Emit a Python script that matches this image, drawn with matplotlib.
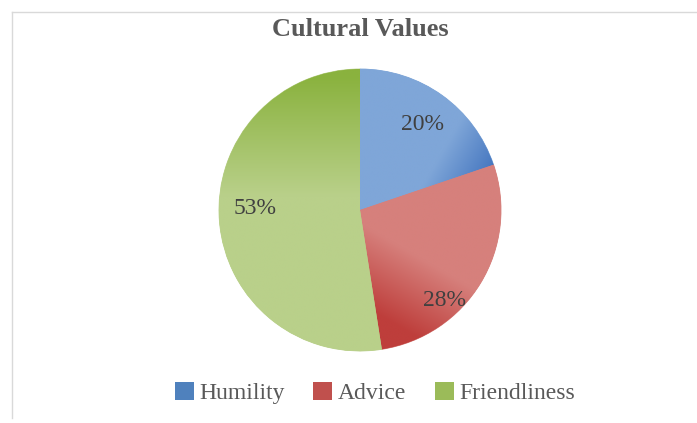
import numpy as np
import matplotlib
matplotlib.use("Agg")
import matplotlib.pyplot as plt
from matplotlib.patches import Patch
from matplotlib.lines import Line2D
from matplotlib.colors import to_rgb

categories = ["Humility", "Advice", "Friendliness"]
values = [20, 28, 53]
pct_labels = ["20%", "28%", "53%"]

# legend / base colours (Office theme)
base_colors = ["#4F81BD", "#C0504D", "#9BBB59"]
# gradient ends: (light, dark) and direction of darkening (degrees), start/span of ramp
grad_light = ["#7FA6D8", "#D6807C", "#B9D08A"]
grad_dark = ["#4173BE", "#BE3E3B", "#8AB23E"]
grad_dir = [-30, -120, 90]
grad_start = [0.30, 0.08, 0.10]
grad_span = [0.40, 0.50, 0.85]

# label anchors: angle clockwise from top, radius fraction
label_pos = [(36, 0.75), (137, 0.88), (271, 0.745)]

serif = "Liberation Serif"
W, H = 697, 423
fig = plt.figure(figsize=(W / 100, H / 100), dpi=100)

cx, cy, r = 360, 210, 141
ax = fig.add_axes([(cx - r) / W, (H - cy - r) / H, 2 * r / W, 2 * r / H])

wedges, _ = ax.pie(values, startangle=90, counterclock=False, radius=1,
                   colors=base_colors, wedgeprops=dict(linewidth=0))

n = 400
xs = np.linspace(-1, 1, n)
X, Y = np.meshgrid(xs, xs[::-1])
for w, lt, dk, ang, s0, sp in zip(wedges, grad_light, grad_dark, grad_dir,
                                   grad_start, grad_span):
    a = np.deg2rad(ang)
    p = X * np.cos(a) + Y * np.sin(a)
    t = np.clip((p - s0) / sp, 0, 1)[..., None]
    img = (1 - t) * np.array(to_rgb(lt)) + t * np.array(to_rgb(dk))
    im = ax.imshow(img, extent=[-1, 1, -1, 1], zorder=2, interpolation="bilinear")
    im.set_clip_path(w)
    w.set_facecolor(lt)
    w.set_edgecolor(lt)
    w.set_linewidth(0.6)

for lab, (ang, rad) in zip(pct_labels, label_pos):
    a = np.deg2rad(ang)
    ax.text(rad * np.sin(a), rad * np.cos(a), lab, ha="center", va="center",
            fontsize=17, family=serif, color="#404040", zorder=5)

ax.set_xlim(-1, 1)
ax.set_ylim(-1, 1)
ax.set_aspect("equal")
ax.axis("off")

fig.text(cx / W, 1 - 29 / H, "Cultural Values", ha="center", va="center",
         fontsize=19, fontweight="bold", family=serif, color="#595959")

handles = [Patch(facecolor=c, edgecolor="none") for c in base_colors]
leg = fig.legend(handles, categories, loc="center", bbox_to_anchor=(375 / W, 1 - 393 / H),
                 ncol=3, frameon=False, prop=dict(family=serif, size=17),
                 handlelength=0.8, handleheight=0.8, handletextpad=0.25,
                 columnspacing=1.2, labelcolor="#595959")

# chart frame (cropped screenshot: only top and left edges visible)
fig.add_artist(Line2D([12 / W, 1], [1 - 12 / H, 1 - 12 / H], transform=fig.transFigure,
                      color="#D9D9D9", lw=1))
fig.add_artist(Line2D([12 / W, 12 / W], [1 - 12 / H, 1 - 418 / H], transform=fig.transFigure,
                      color="#D9D9D9", lw=1))

fig.savefig("out.png", dpi=100)
